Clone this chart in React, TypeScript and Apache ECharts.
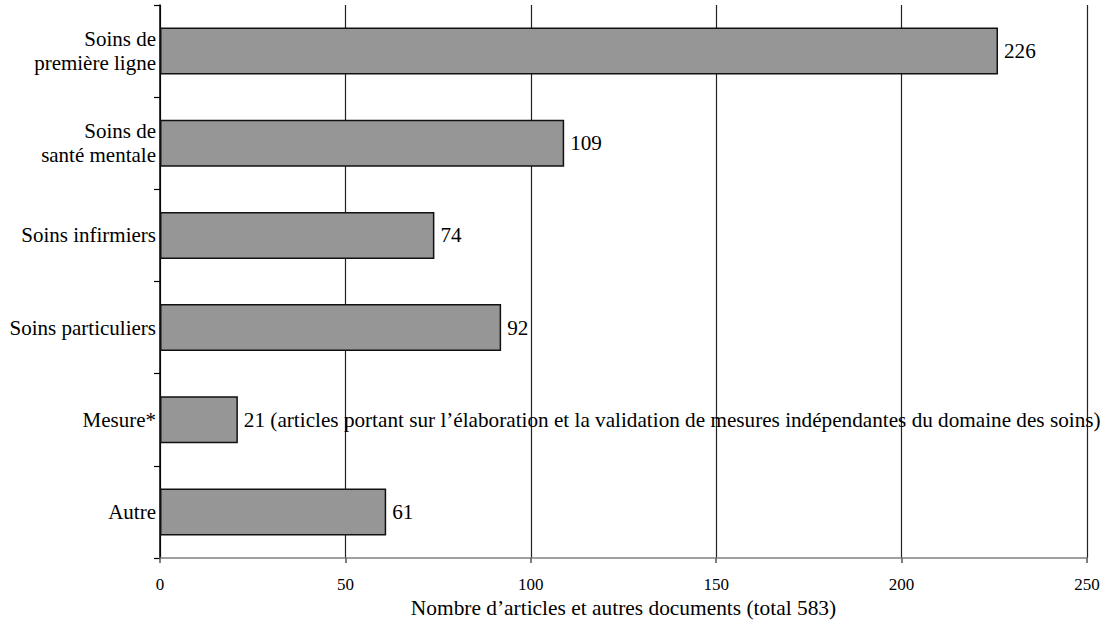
import React, { useEffect, useRef } from "react";
import * as echarts from "echarts";

const categories = [
  "Soins de\npremière ligne",
  "Soins de\nsanté mentale",
  "Soins infirmiers",
  "Soins particuliers",
  "Mesure*",
  "Autre",
];
const values = [226, 109, 74, 92, 21, 61];
const notes = [
  "",
  "",
  "",
  "",
  " (articles portant sur l’élaboration et la validation de mesures indépendantes du domaine des soins)",
  "",
];
const xTicks = { min: 0, max: 250, interval: 50 };
const xTitle = "Nombre d’articles et autres documents (total 583)";

const FONT = "Liberation Serif";

export default function App() {
  const ref = useRef<HTMLDivElement>(null);
  useEffect(() => {
    if (!ref.current) return;
    const chart = echarts.init(ref.current, null, { renderer: "svg" });
    chart.setOption({
      animation: false,
      backgroundColor: "#ffffff",
      textStyle: { fontFamily: FONT },
      grid: { left: 160, right: 26, top: 5, bottom: 69, containLabel: false },
      xAxis: {
        type: "value",
        min: xTicks.min,
        max: xTicks.max,
        interval: xTicks.interval,
        name: xTitle,
        nameLocation: "middle",
        nameGap: 36,
        nameTextStyle: { fontFamily: FONT, fontSize: 21.4, color: "#000" },
        axisLine: { show: true, lineStyle: { color: "#808080", width: 1.5 } },
        axisTick: { show: true, length: 5, lineStyle: { color: "#555", width: 1.5 } },
        axisLabel: { fontFamily: FONT, fontSize: 17, color: "#000", margin: 18 },
        splitLine: { show: true, lineStyle: { color: "#222", width: 1.2 } },
      },
      yAxis: {
        type: "category",
        data: categories,
        inverse: true,
        axisLine: { show: true, lineStyle: { color: "#000", width: 1.5 } },
        axisTick: { show: true, length: 6, alignWithLabel: false, lineStyle: { color: "#000", width: 1.2 } },
        axisLabel: { fontFamily: FONT, fontSize: 21, color: "#000", margin: 4, lineHeight: 24, align: "right" },
        splitLine: { show: false },
      },
      series: [
        {
          type: "bar",
          data: values,
          barWidth: "51%",
          itemStyle: { color: "#969696", borderColor: "#111", borderWidth: 1.5 },
          label: {
            show: true,
            position: "right",
            distance: 6,
            fontFamily: FONT,
            fontSize: 21.2,
            color: "#000",
            formatter: (p: any) => `${p.value}${notes[p.dataIndex]}`,
          },
        },
      ],
    });
    return () => chart.dispose();
  }, []);
  return (
    <div
      ref={ref}
      style={{ position: "fixed", left: 0, top: 0, width: 1113, height: 627 }}
    />
  );
}
